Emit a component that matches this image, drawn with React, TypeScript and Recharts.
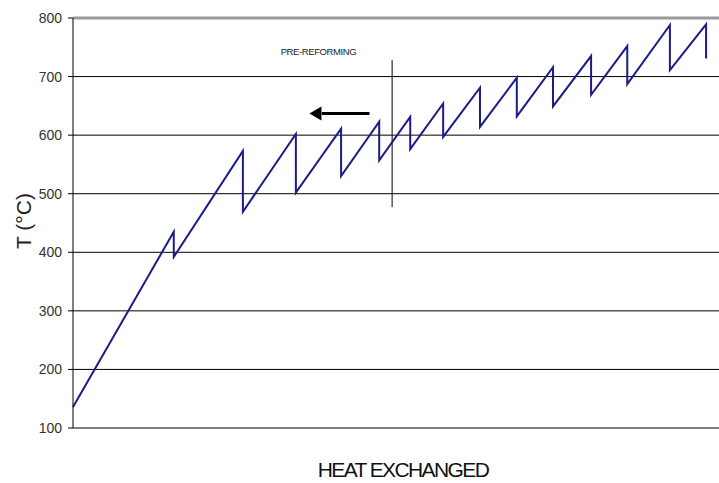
import React from "react";
import {
  LineChart,
  Line,
  XAxis,
  YAxis,
  CartesianGrid,
  ReferenceLine,
  ReferenceDot,
} from "recharts";

// heat exchanged (arbitrary units, 0-100) and temperature (°C)
const heat = [
  0, 15.6, 15.6, 26.3, 26.3, 34.5, 34.5, 41.5, 41.5, 47.4, 47.4, 52.2, 52.2,
  57.3, 57.3, 63.0, 63.0, 68.7, 68.7, 74.3, 74.3, 80.2, 80.2, 85.8, 85.8, 92.4,
  92.4, 98.0, 98.0,
];
const temp = [
  136, 435, 392, 573, 469, 602, 502, 611, 530, 623, 557, 631, 576, 654, 597,
  681, 614, 698, 632, 716, 649, 735, 669, 752, 687, 788, 711, 789, 731,
];
const yTicks = [100, 200, 300, 400, 500, 600, 700, 800];

// pre-reforming marker and arrow
const markerX = 49.4;
const markerY = [477, 728];
const arrowFrom = 45.9;
const arrowTo = 38.5;
const arrowTip = 36.6;
const arrowT = 637;
const noteX = 38.0;
const noteT = 736.5;

const data = heat.map((q, i) => ({ q, t: temp[i] }));

const font = "'Liberation Sans', Arial, sans-serif";

const YTitle = () => (
  <text
    x={31}
    y={221}
    transform="rotate(-90 31 221)"
    textAnchor="middle"
    fontFamily={font}
    fontSize={21}
    fill="#222"
  >
    T (°C)
  </text>
);

const XTitle = () => (
  <text
    x={403}
    y={477}
    textAnchor="middle"
    fontFamily={font}
    fontSize={21}
    letterSpacing={-1.6}
    fill="#111"
  >
    HEAT EXCHANGED
  </text>
);

export default function App() {
  return (
    <div style={{ position: "absolute", left: 0, top: 0, background: "#fff" }}>
      <LineChart
        width={719}
        height={483}
        data={data}
        margin={{ top: 18, right: 0, bottom: 0, left: 0 }}
      >
        <CartesianGrid vertical={false} stroke="#000" strokeWidth={1} />
        <XAxis
          dataKey="q"
          type="number"
          domain={[0, 100]}
          height={55}
          axisLine={false}
          tick={false}
          tickLine={false}
          label={<XTitle />}
        />
        <YAxis
          width={73}
          domain={[100, 800]}
          ticks={yTicks}
          allowDataOverflow
          axisLine={{ stroke: "#000" }}
          tickLine={{ stroke: "#000" }}
          tickSize={5}
          tickMargin={6}
          tick={{ fontSize: 14, fill: "#333", fontFamily: font }}
          label={<YTitle />}
        />
        <ReferenceLine y={800} stroke="#9a9a9a" strokeWidth={3} />
        <ReferenceLine
          segment={[
            { x: markerX, y: markerY[0] },
            { x: markerX, y: markerY[1] },
          ]}
          stroke="#000"
          strokeWidth={1}
        />
        <ReferenceLine
          segment={[
            { x: arrowFrom, y: arrowT },
            { x: arrowTo, y: arrowT },
          ]}
          stroke="#000"
          strokeWidth={3}
        />
        <ReferenceDot
          x={arrowTip}
          y={arrowT}
          r={0}
          shape={(p: any) => (
            <polygon
              points={`${p.cx},${p.cy} ${p.cx + 12},${p.cy - 7} ${p.cx + 12},${p.cy + 7}`}
              fill="#000"
            />
          )}
        />
        <ReferenceDot
          x={noteX}
          y={noteT}
          r={0}
          shape={(p: any) => (
            <text
              x={p.cx}
              y={p.cy}
              textAnchor="middle"
              fontFamily={font}
              fontSize={9.5}
              letterSpacing={-0.4}
              fill="#222"
              stroke="none"
            >
              PRE-REFORMING
            </text>
          )}
        />
        <Line
          type="linear"
          dataKey="t"
          stroke="#1c1c88"
          strokeWidth={2}
          dot={false}
          isAnimationActive={false}
        />
      </LineChart>
    </div>
  );
}
